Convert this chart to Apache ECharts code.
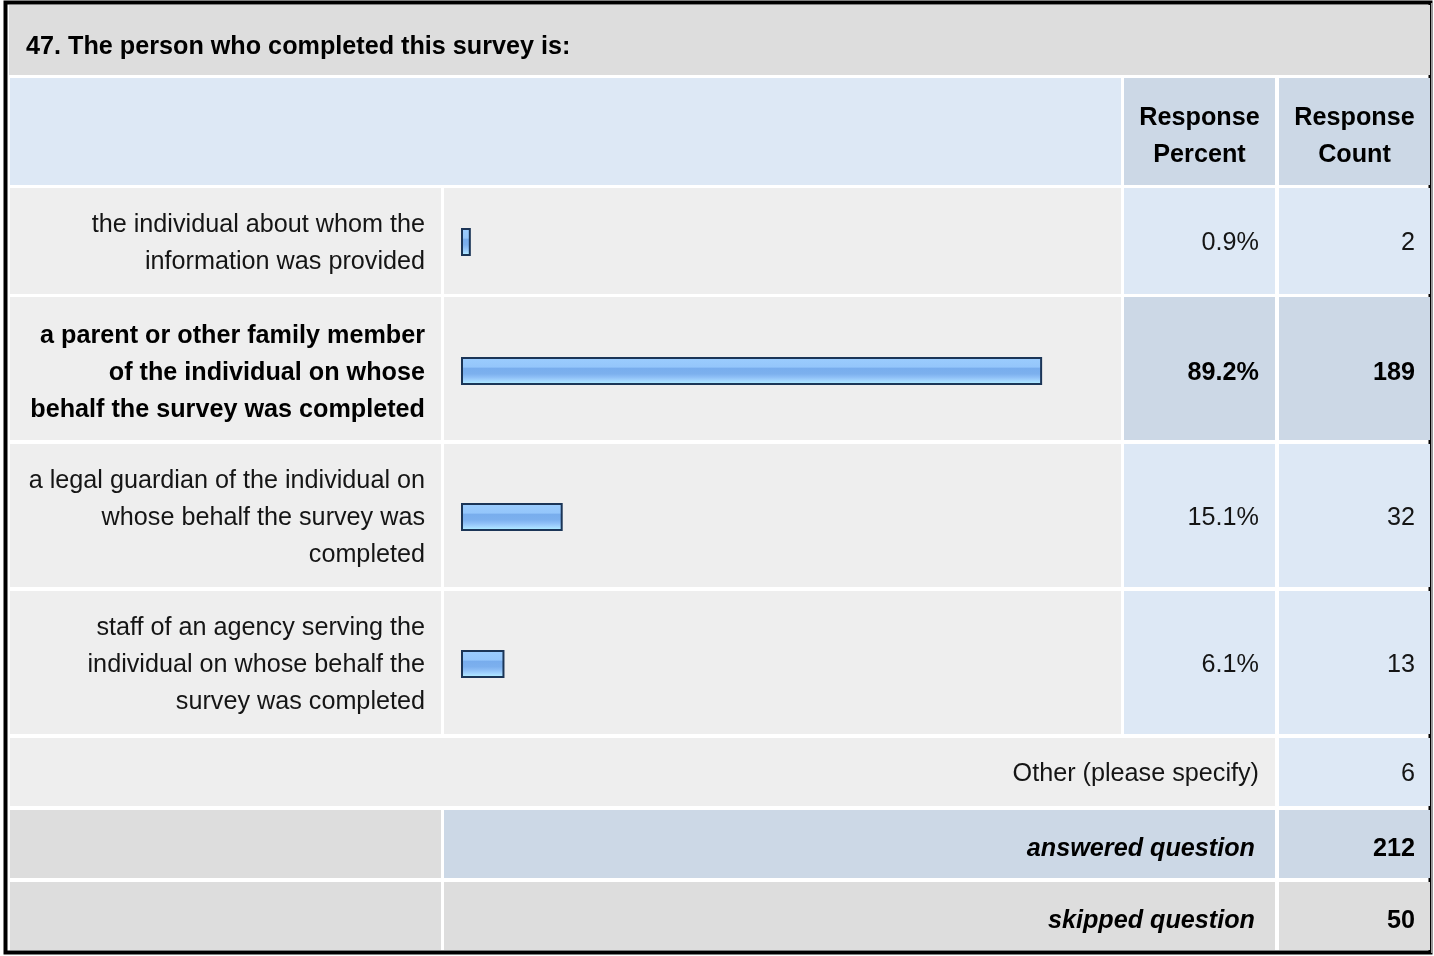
<!DOCTYPE html>
<html>
<head>
<meta charset="utf-8">
<script src="https://cdn.jsdelivr.net/npm/echarts@6/dist/echarts.min.js"></script>
<style>
html,body{margin:0;padding:0;background:#fff;}
#chart{width:1434px;height:956px;}
</style>
</head>
<body>
<div id="chart"></div>
<script>
// ---- data ----
const title = '47. The person who completed this survey is:';
const headerPercent = 'Response\nPercent';
const headerCount = 'Response\nCount';
const categories = [
  'the individual about whom the\ninformation was provided',
  'a parent or other family member\nof the individual on whose\nbehalf the survey was completed',
  'a legal guardian of the individual on\nwhose behalf the survey was\ncompleted',
  'staff of an agency serving the\nindividual on whose behalf the\nsurvey was completed'
];
const percents = [0.9, 89.2, 15.1, 6.1];
const counts = [2, 189, 32, 13];
const highlighted = [false, true, false, false];
const otherLabel = 'Other (please specify)';
const otherCount = 6;
const answeredLabel = 'answered question';
const answeredCount = 212;
const skippedLabel = 'skipped question';
const skippedCount = 50;

// ---- layout ----
const FONT = '"Liberation Sans", Arial, sans-serif';
const FS = 25.2;
const LH = 37;
const TY = 2; // text baseline nudge
const C = { c0: [10, 441], c1: [444, 1121], c2: [1124, 1275], c3: [1279, 1430] };
const rowsY = [[188, 294], [297, 440], [444, 587], [591, 734]];
const rowMid = [241.5, 371, 516.5, 663.5];
const COL = { title: '#dddddd', head: '#dde8f5', headCell: '#ccd8e6', row: '#eeeeee', cell: '#dde8f5', hiCell: '#ccd8e6', grey: '#dddddd' };

const g = [];
function rect(x0, y0, x1, y1, fill) {
  g.push({ type: 'rect', silent: true, shape: { x: x0, y: y0, width: x1 - x0, height: y1 - y0 }, style: { fill: fill } });
}
function text(t, x, y, align, weight, style, color) {
  g.push({ type: 'text', silent: true, style: {
    text: t, x: x, y: y + TY, align: align, verticalAlign: 'middle',
    font: (style || 'normal') + ' ' + (weight || 'normal') + ' ' + FS + 'px ' + FONT,
    lineHeight: LH, fill: color || '#151515'
  }});
}
// outer frame
g.push({ type: 'rect', silent: true, shape: { x: 5.5, y: 2.5, width: 1425, height: 950 }, style: { fill: '#ffffff', stroke: '#000', lineWidth: 4 } });
g.push({ type: 'rect', silent: true, shape: { x: 1431, y: 3, width: 2, height: 950 }, style: { fill: '#999' } });
// title row
rect(9, 5, 1430, 75, COL.title);
text(title, 26, 45, 'left', 'bold', null, '#000');
// header
rect(10, 78, 1121, 185, COL.head);
rect(C.c2[0], 78, C.c2[1], 185, COL.headCell);
rect(C.c3[0], 78, C.c3[1], 185, COL.headCell);
text(headerPercent, (C.c2[0] + C.c2[1]) / 2, 134.5, 'center', 'bold', null, '#000');
text(headerCount, (C.c3[0] + C.c3[1]) / 2, 134.5, 'center', 'bold', null, '#000');
// answer rows
categories.forEach(function (cat, i) {
  const y0 = rowsY[i][0], y1 = rowsY[i][1];
  const hi = highlighted[i];
  rect(C.c0[0], y0, C.c0[1], y1, COL.row);
  rect(C.c1[0], y0, C.c1[1], y1, COL.row);
  rect(C.c2[0], y0, C.c2[1], y1, hi ? COL.hiCell : COL.cell);
  rect(C.c3[0], y0, C.c3[1], y1, hi ? COL.hiCell : COL.cell);
  const w = hi ? 'bold' : 'normal';
  const col = hi ? '#000' : '#151515';
  text(cat, 425, rowMid[i], 'right', w, null, col);
  text(percents[i].toFixed(1) + '%', 1259, rowMid[i], 'right', w, null, col);
  text(String(counts[i]), 1415, rowMid[i], 'right', w, null, col);
});
// other row
rect(10, 738, 1275, 806, COL.row);
rect(C.c3[0], 738, C.c3[1], 806, COL.cell);
text(otherLabel, 1259, 772, 'right');
text(String(otherCount), 1415, 772, 'right');
// answered
rect(C.c0[0], 810, C.c0[1], 878, COL.grey);
rect(C.c1[0], 810, C.c2[1], 878, COL.headCell);
rect(C.c3[0], 810, C.c3[1], 878, COL.headCell);
text(answeredLabel, 1255, 847, 'right', 'bold', 'italic', '#000');
text(String(answeredCount), 1415, 847, 'right', 'bold', null, '#000');
// skipped
rect(C.c0[0], 882, C.c0[1], 950, COL.grey);
rect(C.c1[0], 882, C.c2[1], 950, COL.grey);
rect(C.c3[0], 882, C.c3[1], 950, COL.grey);
text(skippedLabel, 1255, 919, 'right', 'bold', 'italic', '#000');
text(String(skippedCount), 1415, 919, 'right', 'bold', null, '#000');

// ---- bars: one grid per answer row ----
const grids = [], xAxes = [], yAxes = [], series = [];
const barFill = new echarts.graphic.LinearGradient(0, 0, 0, 1, [
  { offset: 0, color: '#9ccdfe' },
  { offset: 0.36, color: '#94c6fb' },
  { offset: 0.4, color: '#78aded' },
  { offset: 0.6, color: '#7cb0ee' },
  { offset: 0.72, color: '#8ebff6' },
  { offset: 0.86, color: '#a6d8ff' },
  { offset: 1, color: '#b2fcff' }
]);
percents.forEach(function (p, i) {
  grids.push({ left: 462, width: 647, top: rowMid[i] - 20, height: 40 });
  xAxes.push({ type: 'value', gridIndex: i, min: 0, max: 100, show: false });
  yAxes.push({ type: 'category', gridIndex: i, data: [categories[i]], show: false });
  series.push({
    type: 'custom', xAxisIndex: i, yAxisIndex: i, silent: true,
    data: [[p, 0]],
    renderItem: function (params, api) {
      const s = api.coord([0, api.value(1)]);
      const e = api.coord([api.value(0), api.value(1)]);
      return {
        type: 'rect',
        shape: { x: s[0], y: Math.round(s[1]) - 13, width: e[0] - s[0] + 2, height: 26 },
        style: { fill: barFill, stroke: '#1b3557', lineWidth: 2 }
      };
    }
  });
});

const chart = echarts.init(document.getElementById('chart'), null, { renderer: 'canvas' });
chart.setOption({
  animation: false,
  backgroundColor: '#ffffff',
  grid: grids, xAxis: xAxes, yAxis: yAxes, series: series,
  graphic: { elements: g }
});
</script>
</body>
</html>
